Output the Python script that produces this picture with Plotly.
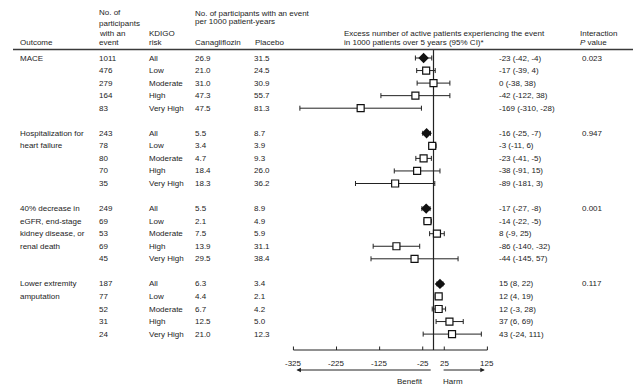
import plotly.graph_objects as go

# ---- data ----
outcome_lines = [
    ["MACE"],
    ["Hospitalization for", "heart failure"],
    ["40% decrease in", "eGFR, end-stage", "kidney disease, or", "renal death"],
    ["Lower extremity", "amputation"],
]
risk_groups = ["All", "Low", "Moderate", "High", "Very High"]
n_events = [
    [1011, 476, 279, 164, 83],
    [243, 78, 80, 70, 35],
    [249, 69, 53, 69, 45],
    [187, 77, 52, 31, 24],
]
rate_cana = [
    [26.9, 21.0, 31.0, 47.3, 47.5],
    [5.5, 3.4, 4.7, 18.4, 18.3],
    [5.5, 2.1, 7.5, 13.9, 29.5],
    [6.3, 4.4, 6.7, 12.5, 21.0],
]
rate_placebo = [
    [31.5, 24.5, 30.9, 55.7, 81.3],
    [8.7, 3.9, 9.3, 26.0, 36.2],
    [8.9, 4.9, 5.9, 31.1, 38.4],
    [3.4, 2.1, 4.2, 5.0, 12.3],
]
excess = [
    [-23, -17, 0, -42, -169],
    [-16, -3, -23, -38, -89],
    [-17, -14, 8, -86, -44],
    [15, 12, 12, 37, 43],
]
ci_low = [
    [-42, -39, -38, -122, -310],
    [-25, -11, -41, -91, -181],
    [-27, -22, -9, -140, -145],
    [8, 4, -3, 6, -24],
]
ci_high = [
    [-4, 4, 38, 38, -28],
    [-7, 6, -5, 15, 3],
    [-8, -5, 25, -32, 57],
    [22, 19, 28, 69, 111],
]
p_interaction = ["0.023", "0.947", "0.001", "0.117"]
x_ticks = [-325, -225, -125, -25, 25, 125]

# ---- layout helpers ----
W, H = 637, 387
ROW0, ROW_STEP = 58, 12.55          # pixel centre of first row, row pitch
X_ZERO, X_SCALE = 433.5, 0.431      # pixel of x=0, pixels per unit
FONT = "Liberation Sans, Arial, sans-serif"
TXT = "#1c1c1c"
FS = 8


def yv(p):
    """pixel row -> y data value"""
    return (p - ROW0) / ROW_STEP


def xp(px):
    return px / W


fig = go.Figure()
ann = []
shapes = []


def label(x_px, y_val, text, anchor="left", size=FS):
    ann.append(dict(
        x=xp(x_px), xref="paper", y=y_val, yref="y", text=text,
        showarrow=False, xanchor=anchor, yanchor="middle",
        font=dict(family=FONT, size=size, color=TXT),
    ))


# headers
label(193, yv(13), "No. of participants with an event")
label(193, yv(21.5), "per 1000 patient-years")
label(97, yv(12.5), "No. of")
label(97, yv(23), "participants")
label(97, yv(33), "with an")
label(97, yv(42), "event")
label(147, yv(33), "KDIGO")
label(147, yv(42), "risk")
label(18, yv(42), "Outcome")
label(193, yv(42.5), "Canagliflozin")
label(253, yv(42.5), "Placebo")
label(342, yv(33), "Excess number of active patients experiencing the event")
label(342, yv(42), "in 1000 patients over 5 years (95% CI)*")
label(578, yv(33), "Interaction")
label(578, yv(42), "<i>P</i> value")

shapes.append(dict(type="line", xref="paper", yref="y", x0=xp(13), x1=xp(633),
                   y0=yv(49.5), y1=yv(49.5), line=dict(color="#3a3a3a", width=1.5)))

# rows
for g in range(4):
    base = g * 6
    for j, line in enumerate(outcome_lines[g]):
        label(18, base + j, line)
    label(580, base, p_interaction[g])
    xs_all, ys_all, em_all, ep_all = [], [], [], []
    xs_sub, ys_sub, em_sub, ep_sub = [], [], [], []
    for k in range(5):
        r = base + k
        label(97, r, str(n_events[g][k]))
        label(147, r, risk_groups[k])
        label(193, r, f"{rate_cana[g][k]:.1f}")
        label(252, r, f"{rate_placebo[g][k]:.1f}")
        label(497, r, f"{excess[g][k]} ({ci_low[g][k]}, {ci_high[g][k]})")
        e = excess[g][k]
        if k == 0:
            xs_all.append(e); ys_all.append(r)
            em_all.append(e - ci_low[g][k]); ep_all.append(ci_high[g][k] - e)
        else:
            xs_sub.append(e); ys_sub.append(r)
            em_sub.append(e - ci_low[g][k]); ep_sub.append(ci_high[g][k] - e)
    fig.add_trace(go.Scatter(
        x=xs_sub, y=ys_sub, mode="markers",
        marker=dict(symbol="square", size=7, color="white", line=dict(color="#111", width=1.2)),
        error_x=dict(type="data", array=ep_sub, arrayminus=em_sub, color="#222",
                     thickness=1, width=2.5),
        showlegend=False, hoverinfo="skip"))
    fig.add_trace(go.Scatter(
        x=xs_all, y=ys_all, mode="markers",
        marker=dict(symbol="diamond", size=8, color="#111", line=dict(color="#111", width=0)),
        error_x=dict(type="data", array=ep_all, arrayminus=em_all, color="#222",
                     thickness=1, width=2.5),
        showlegend=False, hoverinfo="skip"))

# zero reference line
shapes.append(dict(type="line", xref="x", yref="y", x0=0, x1=0,
                   y0=yv(50), y1=yv(350), line=dict(color="#222", width=1.2), layer="below"))

# custom x axis
axis_y = yv(350)
shapes.append(dict(type="line", xref="x", yref="y", x0=x_ticks[0], x1=x_ticks[-1],
                   y0=axis_y, y1=axis_y, line=dict(color="#222", width=1)))
for t in x_ticks:
    shapes.append(dict(type="line", xref="x", yref="y", x0=t, x1=t,
                       y0=axis_y, y1=yv(346.5), line=dict(color="#222", width=1)))
    ann.append(dict(x=t, xref="x", y=yv(363), yref="y", text=str(t), showarrow=False,
                    xanchor="center", yanchor="middle",
                    font=dict(family=FONT, size=FS, color=TXT)))

# benefit / harm arrows
arrow_y = yv(370)
for tip, tail in ((-318, -3), (119, 20)):
    ann.append(dict(x=tip, y=arrow_y, xref="x", yref="y", ax=tail, ay=arrow_y,
                    axref="x", ayref="y", text="", showarrow=True, arrowhead=2,
                    arrowsize=0.9, arrowwidth=1, arrowcolor="#222"))
ann.append(dict(x=-55, xref="x", y=yv(381), yref="y", text="Benefit", showarrow=False,
                xanchor="center", yanchor="middle", font=dict(family=FONT, size=FS, color=TXT)))
ann.append(dict(x=45, xref="x", y=yv(381), yref="y", text="Harm", showarrow=False,
                xanchor="center", yanchor="middle", font=dict(family=FONT, size=FS, color=TXT)))

fig.update_layout(
    width=W, height=H,
    margin=dict(l=0, r=0, t=0, b=0),
    paper_bgcolor="white", plot_bgcolor="white",
    xaxis=dict(domain=[0, 1], range=[(0 - X_ZERO) / X_SCALE, (W - X_ZERO) / X_SCALE],
               visible=False, fixedrange=True),
    yaxis=dict(domain=[0, 1], range=[yv(H), yv(0)], visible=False, fixedrange=True),
    annotations=ann, shapes=shapes,
    showlegend=False,
)

fig.write_html("out.html")
